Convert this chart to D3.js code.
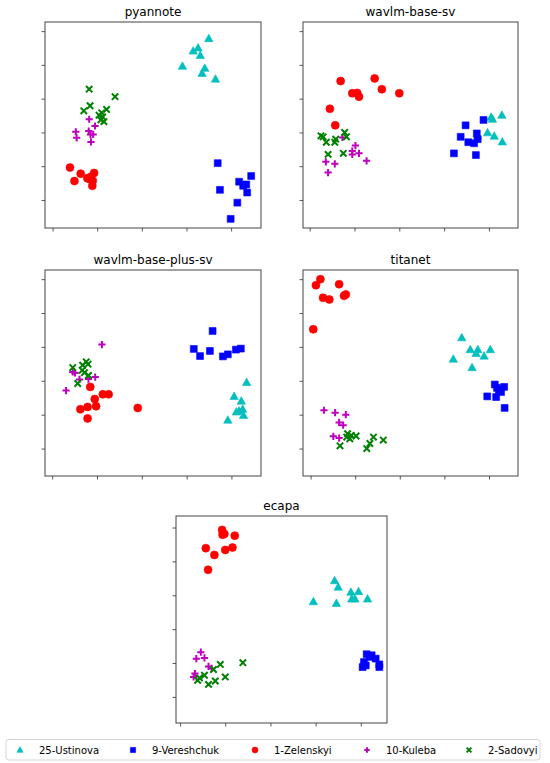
<!DOCTYPE html>
<html>
<head>
<meta charset="utf-8">
<script src="https://cdn.jsdelivr.net/npm/d3@7"></script>
<style>
  body { margin: 0; background: #fff; }
  text { font-family: "DejaVu Sans", sans-serif; }
</style>
</head>
<body>
<div id="chart"></div>
<script>
// speakers, in plotting / legend order
const speakers = ["25-Ustinova", "9-Vereshchuk", "1-Zelenskyi", "10-Kuleba", "2-Sadovyi"];
const models = ["pyannote", "wavlm-base-sv", "wavlm-base-plus-sv", "titanet", "ecapa"];

// tick values (no labels are shown in the figure)
const xTicks = [0, 10, 20, 30, 40];
const yTicks = [0, 10, 20, 30, 40, 50];

// embeddings, [x, y]
const pyannoteUstinova = [[35.0,47.8],[31.5,44.1],[32.6,45.0],[33.1,42.8],[29.1,39.6],[34.1,39.0],[33.5,37.5],[36.5,35.8]];
const pyannoteVereshchuk = [[37.0,10.9],[37.5,3.0],[41.8,5.4],[42.7,4.2],[43.4,4.6],[44.5,7.1],[43.6,2.2],[41.4,-0.8],[39.9,-5.6]];
const pyannoteZelenskyi = [[3.9,9.6],[4.9,5.6],[6.3,7.8],[7.8,6.4],[8.6,6.9],[9.3,8.0],[9.0,5.7],[8.9,4.2],[8.4,6.1]];
const pyannoteKuleba = [[5.2,20.2],[5.4,18.4],[8.2,23.9],[8.1,20.4],[9.5,21.9],[8.5,19.4],[9.1,19.4],[8.6,17.2]];
const pyannoteSadovyi = [[8.2,32.8],[8.4,27.9],[7.0,26.4],[14.0,30.6],[12.1,26.8],[11.0,25.8],[11.2,24.6],[10.8,23.7],[11.5,23.2],[10.4,25.1]];

const baseSvUstinova = [[40.5,24.5],[40.8,23.9],[42.9,25.1],[39.7,19.9],[41.2,18.9],[43.0,17.2],[37.5,19.0]];
const baseSvVereshchuk = [[32.2,13.8],[33.7,18.7],[34.8,22.1],[35.4,17.1],[36.7,16.8],[37.3,19.7],[37.5,18.0],[37.1,13.3],[38.8,23.7]];
const baseSvZelenskyi = [[6.9,35.2],[14.5,36.0],[16.1,32.8],[20.0,31.6],[9.5,31.6],[10.6,31.7],[11.0,30.6],[4.5,27.0],[5.7,22.1]];
const baseSvKuleba = [[7.3,18.5],[10.2,16.1],[9.5,14.5],[11.0,13.8],[9.5,13.5],[3.6,11.3],[5.6,10.7],[4.1,8.1],[12.7,11.6]];
const baseSvSadovyi = [[2.5,19.0],[3.7,17.1],[5.6,17.1],[5.8,18.0],[7.8,20.0],[8.2,18.7],[4.1,13.5],[7.5,13.8],[3.0,18.7]];

const basePlusUstinova = [[43.4,19.5],[40.6,15.4],[42.2,14.0],[41.1,10.8],[42.5,11.6],[42.7,9.8],[39.2,8.4],[41.7,11.1]];
const basePlusVereshchuk = [[35.8,34.7],[31.6,29.4],[33.0,27.3],[35.2,28.8],[38.1,27.2],[39.2,27.8],[41.0,29.2],[42.1,29.5]];
const basePlusZelenskyi = [[8.5,18.2],[11.3,16.0],[12.6,16.0],[9.5,14.6],[9.8,12.5],[6.3,11.6],[7.9,12.3],[7.9,8.9],[19.1,12.0]];
const basePlusKuleba = [[11.1,30.7],[3.1,17.1],[5.1,22.3],[6.1,20.4],[8.1,20.5],[9.6,21.1],[4.6,22.6]];
const basePlusSadovyi = [[4.6,23.9],[6.7,23.1],[7.6,25.6],[8.0,24.9],[5.7,19.2],[8.1,21.6],[6.8,24.6],[7.2,22.4]];

const titanetUstinova = [[33.9,32.7],[32.0,26.4],[35.8,29.2],[36.2,23.9],[37.5,29.2],[37.1,28.1],[38.9,27.3],[40.3,29.2]];
const titanetVereshchuk = [[41.3,18.9],[43.4,18.2],[42.2,17.2],[41.6,15.2],[39.6,15.4],[43.5,12.0],[42.7,16.7],[41.8,17.9]];
const titanetZelenskyi = [[2.2,50.0],[1.2,48.2],[2.8,44.5],[4.2,44.0],[6.4,48.5],[7.5,45.1],[7.9,45.5],[0.6,35.2]];
const titanetKuleba = [[3.0,11.3],[5.5,10.6],[7.9,10.0],[6.4,7.7],[7.3,6.9],[5.1,3.6],[6.4,3.1]];
const titanetSadovyi = [[6.6,0.8],[8.3,4.4],[8.8,2.9],[9.1,3.9],[10.2,3.7],[12.6,0.0],[13.3,1.5],[14.1,3.4],[16.3,2.5],[8.1,3.4]];

const ecapaUstinova = [[34.2,34.3],[35.0,32.4],[29.5,28.1],[34.6,27.6],[37.8,30.9],[39.5,31.1],[38.7,28.9],[38.0,28.9],[41.5,28.9]];
const ecapaVereshchuk = [[40.4,8.8],[40.7,10.3],[41.3,12.6],[42.4,12.3],[43.3,11.3],[44.1,9.6],[44.1,8.8],[41.1,9.3],[42.0,11.8]];
const ecapaZelenskyi = [[9.3,49.3],[9.4,47.9],[9.8,48.1],[12.1,47.6],[5.7,43.9],[7.6,41.9],[10.0,43.4],[11.6,44.1],[6.2,37.5]];
const ecapaKuleba = [[4.6,13.2],[3.6,11.3],[5.4,11.5],[6.3,9.0],[7.0,8.4],[3.3,6.9],[3.0,5.9]];
const ecapaSadovyi = [[8.9,9.6],[13.9,10.1],[7.4,8.1],[5.4,6.4],[3.9,4.9],[6.3,3.7],[7.8,4.7],[10.0,5.9],[4.3,5.6]];

const panelData = [
  [pyannoteUstinova, pyannoteVereshchuk, pyannoteZelenskyi, pyannoteKuleba, pyannoteSadovyi],
  [baseSvUstinova, baseSvVereshchuk, baseSvZelenskyi, baseSvKuleba, baseSvSadovyi],
  [basePlusUstinova, basePlusVereshchuk, basePlusZelenskyi, basePlusKuleba, basePlusSadovyi],
  [titanetUstinova, titanetVereshchuk, titanetZelenskyi, titanetKuleba, titanetSadovyi],
  [ecapaUstinova, ecapaVereshchuk, ecapaZelenskyi, ecapaKuleba, ecapaSadovyi]
];

// Set up dimensions
const width = 550;
const height = 763;

const colors = ["#00bfbf", "#0000ff", "#ff0000", "#bf00bf", "#008000"];
const shapes = ["triangle", "square", "circle", "plus", "x"];

// axes boxes and their domains
const panels = [
  { left: 45,  top: 22,  w: 216, h: 206, xd: [-1.7, 46.7], yd: [-8.3, 52.7] },
  { left: 303, top: 22,  w: 215, h: 206, xd: [-1.5, 46.5], yd: [-8.3, 52.7] },
  { left: 45,  top: 270, w: 216, h: 206, xd: [-1.6, 46.6], yd: [-8.1, 52.7] },
  { left: 303, top: 270, w: 215, h: 206, xd: [-1.7, 46.5], yd: [-8.1, 52.7] },
  { left: 176, top: 516, w: 211, h: 207, xd: [-0.9, 45.8], yd: [-7.7, 53.4] }
];

// marker paths, centred at 0,0
function markerPath(shape, s) {
  const p = d3.path();
  if (shape === "circle") {
    p.arc(0, 0, s * 0.5, 0, 2 * Math.PI);
  } else if (shape === "square") {
    const r = s * 0.43;
    p.rect(-r, -r, 2 * r, 2 * r);
  } else if (shape === "triangle") {
    const r = s * 0.55;
    p.moveTo(0, -r);
    p.lineTo(r * 0.95, r * 0.7);
    p.lineTo(-r * 0.95, r * 0.7);
    p.closePath();
  } else if (shape === "plus") {
    const r = s * 0.45;
    p.moveTo(-r, 0); p.lineTo(r, 0);
    p.moveTo(0, -r); p.lineTo(0, r);
  } else {
    const r = s * 0.4;
    p.moveTo(-r, -r); p.lineTo(r, r);
    p.moveTo(-r, r); p.lineTo(r, -r);
  }
  return p.toString();
}

function drawMarker(sel, shape, color, s) {
  const stroked = shape === "plus" || shape === "x";
  return sel.append("path")
    .attr("d", markerPath(shape, s))
    .attr("fill", stroked ? "none" : color)
    .attr("stroke", color)
    .attr("stroke-width", stroked ? 2 : 0.6)
    .attr("stroke-linecap", "butt");
}

// Create SVG
const svg = d3.select("#chart")
  .append("svg")
  .attr("width", width)
  .attr("height", height);

svg.append("rect").attr("width", width).attr("height", height).attr("fill", "#fff");

panels.forEach((pn, i) => {
  const x = d3.scaleLinear().domain(pn.xd).range([0, pn.w]);
  const y = d3.scaleLinear().domain(pn.yd).range([pn.h, 0]);
  const g = svg.append("g").attr("transform", `translate(${pn.left},${pn.top})`);

  // title
  g.append("text")
    .attr("x", pn.w / 2)
    .attr("y", -6)
    .attr("text-anchor", "middle")
    .attr("font-size", 12)
    .attr("fill", "#000")
    .text(models[i]);

  // points, one group per speaker
  panelData[i].forEach((pts, k) => {
    pts.forEach(d => {
      drawMarker(g, shapes[k], colors[k], 8)
        .attr("transform", `translate(${x(d[0])},${y(d[1])})`);
    });
  });

  // axes: ticks without labels
  const xAxis = g.append("g")
    .attr("transform", `translate(0,${pn.h})`)
    .call(d3.axisBottom(x).tickValues(xTicks).tickSize(3.5).tickFormat(""));
  const yAxis = g.append("g")
    .call(d3.axisLeft(y).tickValues(yTicks).tickSize(3.5).tickFormat(""));
  [xAxis, yAxis].forEach(a => {
    a.select(".domain").remove();
    a.selectAll("line").attr("stroke", "#444").attr("stroke-width", 0.9);
  });

  // frame
  g.append("rect")
    .attr("width", pn.w)
    .attr("height", pn.h)
    .attr("fill", "none")
    .attr("stroke", "#444")
    .attr("stroke-width", 1);
});

// legend
const legendX = [20, 133, 255, 367, 469];
const legend = svg.append("g");
legend.append("rect")
  .attr("x", 6).attr("y", 739.5)
  .attr("width", 534).attr("height", 20.5)
  .attr("rx", 3)
  .attr("fill", "#fff")
  .attr("stroke", "#d6d6d6")
  .attr("stroke-width", 1);

speakers.forEach((name, k) => {
  drawMarker(legend, shapes[k], colors[k], 6)
    .attr("transform", `translate(${legendX[k]},${750})`);
  legend.append("text")
    .attr("x", legendX[k] + 19)
    .attr("y", 753.5)
    .attr("font-size", 10)
    .attr("fill", "#000")
    .text(name);
});
</script>
</body>
</html>
